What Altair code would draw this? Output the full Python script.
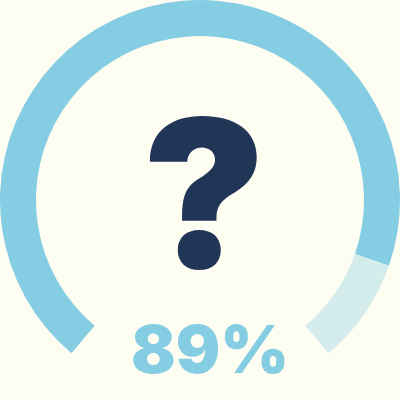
import altair as alt
import pandas as pd
import math

# Data
segments = ["filled", "remaining"]
seg_start = [0, 89]
seg_end = [89, 100]
seg_colors = ["#85CDE3", "#D4ECEC"]
percent_value = 89
icon_label = ["?"]

df = pd.DataFrame({"seg": segments, "start": seg_start, "end": seg_end})
lbl = pd.DataFrame({"label": [f"{percent_value}%"]})
icon = pd.DataFrame({"label": icon_label})

a = math.radians(140)

arcs = alt.Chart(df).mark_arc(radius=200, radius2=164).encode(
    theta=alt.Theta("start:Q", scale=alt.Scale(domain=[0, 100], range=[-a, a])),
    theta2="end:Q",
    color=alt.Color("seg:N", scale=alt.Scale(domain=segments, range=seg_colors), legend=None),
)

qmark = alt.Chart(icon).mark_text(
    font="Inter", fontWeight=900, fontSize=206, color="#213557", baseline="alphabetic", align="center"
).encode(text="label:N", x=alt.value(204), y=alt.value(268))

pct = alt.Chart(lbl).mark_text(
    font="Inter", fontWeight=900, fontSize=66, color="#85CDE3", baseline="alphabetic", align="center"
).encode(text="label:N", x=alt.value(210), y=alt.value(373))

chart = alt.layer(arcs, qmark, pct).properties(
    width=400, height=400, background="#FEFDF2", padding=0,
    autosize=alt.AutoSizeParams(type="fit", contains="padding"),
).configure_view(stroke=None)

chart.save("out.html", embed_options={"renderer": "svg", "actions": False})
